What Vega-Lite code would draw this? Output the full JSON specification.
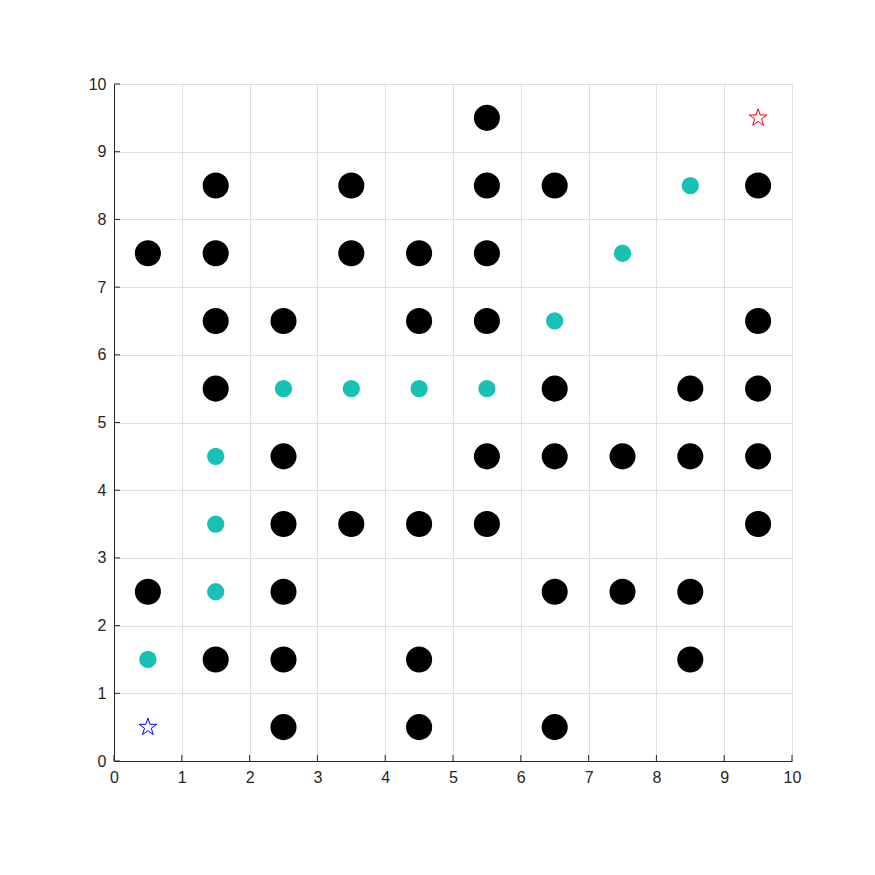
{
  "$schema": "https://vega.github.io/schema/vega-lite/v6.json",
  "width": 678,
  "height": 677,
  "autosize": {"type": "none"},
  "padding": {"left": 114, "top": 84, "right": 83, "bottom": 114},
  "background": "white",
  "config": {
    "view": {"stroke": null},
    "axis": {
      "domainColor": "#262626",
      "labelColor": "#262626",
      "labelFont": "Liberation Sans",
      "labelFontSize": 16,
      "labelFlush": false,
      "labelOverlap": false,
      "gridColor": "#dfdfdf",
      "gridWidth": 1,
      "ticks": false,
      "title": null
    }
  },
  "datasets": {
    "obstacles": [
      {"x": 5.5, "y": 9.5},
      {"x": 1.5, "y": 8.5}, {"x": 3.5, "y": 8.5}, {"x": 5.5, "y": 8.5}, {"x": 6.5, "y": 8.5}, {"x": 9.5, "y": 8.5},
      {"x": 0.5, "y": 7.5}, {"x": 1.5, "y": 7.5}, {"x": 3.5, "y": 7.5}, {"x": 4.5, "y": 7.5}, {"x": 5.5, "y": 7.5},
      {"x": 1.5, "y": 6.5}, {"x": 2.5, "y": 6.5}, {"x": 4.5, "y": 6.5}, {"x": 5.5, "y": 6.5}, {"x": 9.5, "y": 6.5},
      {"x": 1.5, "y": 5.5}, {"x": 6.5, "y": 5.5}, {"x": 8.5, "y": 5.5}, {"x": 9.5, "y": 5.5},
      {"x": 2.5, "y": 4.5}, {"x": 5.5, "y": 4.5}, {"x": 6.5, "y": 4.5}, {"x": 7.5, "y": 4.5}, {"x": 8.5, "y": 4.5}, {"x": 9.5, "y": 4.5},
      {"x": 2.5, "y": 3.5}, {"x": 3.5, "y": 3.5}, {"x": 4.5, "y": 3.5}, {"x": 5.5, "y": 3.5}, {"x": 9.5, "y": 3.5},
      {"x": 0.5, "y": 2.5}, {"x": 2.5, "y": 2.5}, {"x": 6.5, "y": 2.5}, {"x": 7.5, "y": 2.5}, {"x": 8.5, "y": 2.5},
      {"x": 1.5, "y": 1.5}, {"x": 2.5, "y": 1.5}, {"x": 4.5, "y": 1.5}, {"x": 8.5, "y": 1.5},
      {"x": 2.5, "y": 0.5}, {"x": 4.5, "y": 0.5}, {"x": 6.5, "y": 0.5}
    ],
    "path": [
      {"x": 0.5, "y": 1.5}, {"x": 1.5, "y": 2.5}, {"x": 1.5, "y": 3.5}, {"x": 1.5, "y": 4.5},
      {"x": 2.5, "y": 5.5}, {"x": 3.5, "y": 5.5}, {"x": 4.5, "y": 5.5}, {"x": 5.5, "y": 5.5},
      {"x": 6.5, "y": 6.5}, {"x": 7.5, "y": 7.5}, {"x": 8.5, "y": 8.5}
    ],
    "start": [{"x": 0.5, "y": 0.5}],
    "goal": [{"x": 9.5, "y": 9.5}],
    "ticks": [{"v": 0}, {"v": 1}, {"v": 2}, {"v": 3}, {"v": 4}, {"v": 5}, {"v": 6}, {"v": 7}, {"v": 8}, {"v": 9}, {"v": 10}]
  },
  "layer": [
    {
      "data": {"name": "obstacles"},
      "mark": {"type": "point", "shape": "circle", "filled": true, "color": "black", "size": 680, "opacity": 1},
      "encoding": {
        "x": {"field": "x", "type": "quantitative", "scale": {"domain": [0, 10], "nice": false, "zero": false}, "axis": {"values": [0,1,2,3,4,5,6,7,8,9,10], "format": "d", "labelPadding": 8, "labelFontSize": 16, "labelFlush": false}},
        "y": {"field": "y", "type": "quantitative", "scale": {"domain": [0, 10], "nice": false, "zero": false}, "axis": {"values": [0,1,2,3,4,5,6,7,8,9,10], "format": "d", "labelPadding": 8, "labelFontSize": 16, "labelFlush": false}}
      }
    },
    {
      "data": {"name": "path"},
      "mark": {"type": "point", "shape": "circle", "filled": true, "color": "#19c0b4", "size": 300, "opacity": 1},
      "encoding": {
        "x": {"field": "x", "type": "quantitative"},
        "y": {"field": "y", "type": "quantitative"}
      }
    },
    {
      "data": {"name": "start"},
      "mark": {"type": "point", "shape": "M0,-1L0.2245,-0.309L0.951,-0.309L0.363,0.118L0.588,0.809L0,0.382L-0.588,0.809L-0.363,0.118L-0.951,-0.309L-0.2245,-0.309Z", "filled": false, "size": 340, "strokeWidth": 1, "color": "#0000ff", "opacity": 1},
      "encoding": {
        "x": {"field": "x", "type": "quantitative"},
        "y": {"field": "y", "type": "quantitative"}
      }
    },
    {
      "data": {"name": "goal"},
      "mark": {"type": "point", "shape": "M0,-1L0.2245,-0.309L0.951,-0.309L0.363,0.118L0.588,0.809L0,0.382L-0.588,0.809L-0.363,0.118L-0.951,-0.309L-0.2245,-0.309Z", "filled": false, "size": 340, "strokeWidth": 1, "color": "#ff0000", "opacity": 1},
      "encoding": {
        "x": {"field": "x", "type": "quantitative"},
        "y": {"field": "y", "type": "quantitative"}
      }
    },
    {
      "data": {"name": "ticks"},
      "mark": {"type": "tick", "orient": "vertical", "size": 6, "thickness": 1, "color": "#262626", "yOffset": -3, "opacity": 1},
      "encoding": {
        "x": {"field": "v", "type": "quantitative"},
        "y": {"datum": 0, "type": "quantitative"}
      }
    },
    {
      "data": {"name": "ticks"},
      "mark": {"type": "tick", "orient": "horizontal", "size": 6, "thickness": 1, "color": "#262626", "xOffset": 3, "opacity": 1},
      "encoding": {
        "y": {"field": "v", "type": "quantitative"},
        "x": {"datum": 0, "type": "quantitative"}
      }
    }
  ]
}
